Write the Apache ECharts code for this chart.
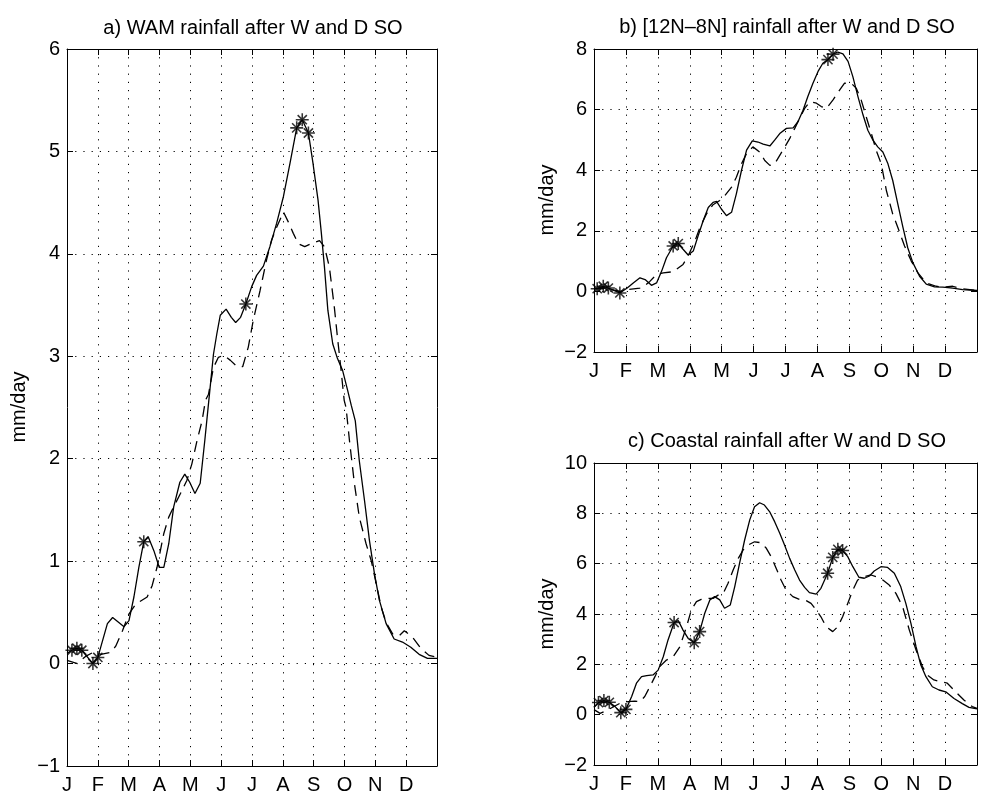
<!DOCTYPE html>
<html>
<head>
<meta charset="utf-8">
<title>WAM rainfall after W and D SO</title>
<script src="https://cdn.jsdelivr.net/npm/echarts@6/dist/echarts.min.js"></script>
<style>
  html, body { margin: 0; padding: 0; background: #fff; }
  #chart { width: 984px; height: 798px; }
</style>
</head>
<body>
<div id="chart"></div>
<script>
// month tick labels (x in months from 1 Jan)
var months = ['J', 'F', 'M', 'A', 'M', 'J', 'J', 'A', 'S', 'O', 'N', 'D'];

// a) WAM rainfall
var aSolid = [[0,0.10],[0.16,0.13],[0.32,0.15],[0.48,0.13],[0.84,0.0],[1.0,0.06],[1.31,0.39],[1.48,0.45],[1.85,0.36],[2.01,0.42],[2.17,0.65],[2.33,0.94],[2.49,1.19],[2.63,1.24],[2.82,1.1],[2.99,0.94],[3.14,0.94],[3.3,1.17],[3.46,1.53],[3.66,1.77],[3.82,1.85],[3.98,1.77],[4.15,1.66],[4.32,1.76],[4.47,2.18],[4.6,2.57],[4.75,3.02],[4.86,3.22],[4.97,3.40],[5.16,3.46],[5.33,3.38],[5.47,3.33],[5.63,3.38],[5.80,3.51],[5.99,3.68],[6.15,3.79],[6.37,3.88],[6.58,4.07],[6.80,4.30],[7.02,4.56],[7.23,4.88],[7.45,5.23],[7.63,5.31],[7.83,5.18],[7.98,4.88],[8.14,4.53],[8.25,4.20],[8.35,3.87],[8.46,3.45],[8.62,3.12],[8.77,2.98],[8.94,2.86],[9.10,2.67],[9.22,2.52],[9.35,2.37],[9.48,1.98],[9.65,1.59],[9.81,1.20],[9.97,0.88],[10.13,0.62],[10.35,0.39],[10.61,0.24],[10.88,0.21],[11.15,0.16],[11.42,0.09],[11.69,0.05],[12,0.05]];
var aDashed = [[0,0.03],[0.34,0.0],[0.6,0.07],[0.85,0.11],[1.1,0.09],[1.42,0.11],[1.58,0.17],[1.8,0.32],[2.0,0.48],[2.23,0.58],[2.6,0.65],[2.76,0.76],[2.92,0.94],[3.14,1.27],[3.3,1.43],[3.46,1.53],[3.68,1.66],[3.89,1.79],[4.05,1.95],[4.22,2.18],[4.38,2.37],[4.49,2.57],[4.59,2.63],[4.75,2.89],[4.91,2.99],[5.08,3.01],[5.3,2.96],[5.51,2.90],[5.70,2.90],[5.88,3.09],[6.04,3.35],[6.26,3.64],[6.47,3.94],[6.63,4.13],[6.80,4.26],[7.02,4.41],[7.18,4.31],[7.34,4.20],[7.5,4.10],[7.71,4.07],[7.92,4.10],[8.19,4.13],[8.35,4.07],[8.51,3.87],[8.67,3.48],[8.77,3.19],[8.88,2.89],[8.99,2.57],[9.05,2.5],[9.16,2.18],[9.32,1.76],[9.48,1.43],[9.70,1.17],[9.87,1.0],[10.03,0.78],[10.19,0.55],[10.35,0.40],[10.56,0.29],[10.77,0.27],[10.94,0.32],[11.2,0.26],[11.47,0.15],[11.74,0.08],[12,0.06]];
var aStars = [[0.16,0.13],[0.32,0.15],[0.48,0.13],[0.84,0.0],[1.0,0.06],[2.49,1.19],[5.80,3.51],[7.45,5.23],[7.63,5.31],[7.83,5.18]];

// b) [12N-8N] rainfall
var bSolid = [[0,0.11],[0.1,0.09],[0.29,0.17],[0.45,0.11],[0.81,-0.05],[1.04,0.11],[1.23,0.28],[1.44,0.45],[1.6,0.39],[1.8,0.2],[1.96,0.28],[2.12,0.67],[2.27,1.11],[2.48,1.5],[2.64,1.58],[2.79,1.39],[2.95,1.2],[3.11,1.33],[3.26,1.83],[3.42,2.33],[3.58,2.77],[3.73,2.94],[3.84,2.97],[3.99,2.72],[4.15,2.5],[4.31,2.61],[4.46,3.22],[4.62,3.99],[4.78,4.66],[4.96,4.97],[5.14,4.93],[5.30,4.86],[5.51,4.80],[5.66,4.99],[5.82,5.21],[6.03,5.38],[6.24,5.40],[6.39,5.60],[6.55,5.98],[6.7,6.43],[6.86,6.87],[7.02,7.26],[7.17,7.53],[7.33,7.65],[7.49,7.83],[7.64,7.9],[7.8,7.84],[7.96,7.59],[8.11,7.09],[8.27,6.43],[8.43,5.82],[8.58,5.32],[8.74,4.99],[8.89,4.77],[9.05,4.6],[9.21,4.21],[9.36,3.66],[9.52,2.88],[9.68,2.11],[9.83,1.44],[9.99,0.95],[10.2,0.5],[10.41,0.24],[10.67,0.15],[10.93,0.14],[11.24,0.11],[11.55,0.06],[12,0.03]];
var bDashed = [[0,0.08],[0.3,0.12],[0.6,0.05],[0.81,0.0],[1.04,0.06],[1.44,0.11],[1.54,0.14],[1.75,0.33],[1.96,0.56],[2.17,0.61],[2.48,0.65],[2.79,0.89],[2.95,1.17],[3.16,1.66],[3.32,2.11],[3.52,2.55],[3.73,2.86],[3.94,3.0],[4.1,3.16],[4.31,3.44],[4.46,3.77],[4.62,4.21],[4.78,4.55],[4.98,4.77],[5.19,4.6],[5.35,4.32],[5.51,4.16],[5.66,4.21],[5.82,4.49],[5.98,4.77],[6.13,5.04],[6.29,5.38],[6.44,5.71],[6.6,6.04],[6.76,6.26],[6.97,6.21],[7.12,6.1],[7.28,6.04],[7.49,6.32],[7.7,6.65],[7.85,6.87],[8.06,6.87],[8.22,6.70],[8.37,6.32],[8.53,5.76],[8.69,5.21],[8.84,4.66],[9.0,4.21],[9.16,3.33],[9.36,2.55],[9.52,2.11],[9.73,1.5],[9.94,1.0],[10.15,0.61],[10.41,0.28],[10.72,0.17],[10.98,0.14],[11.24,0.17],[11.5,0.09],[12,0.03]];
var bStars = [[0.1,0.09],[0.29,0.17],[0.45,0.11],[0.81,-0.05],[2.48,1.5],[2.64,1.58],[7.33,7.65],[7.49,7.83]];

// c) Coastal rainfall
var cSolid = [[0,0.29],[0.14,0.48],[0.31,0.56],[0.48,0.49],[0.66,0.32],[0.84,0.08],[1.0,0.21],[1.18,0.72],[1.33,1.25],[1.49,1.51],[1.65,1.55],[1.85,1.58],[2.01,1.77],[2.17,2.3],[2.32,2.97],[2.51,3.66],[2.64,3.74],[2.79,3.36],[2.95,3.03],[3.14,2.86],[3.31,3.3],[3.47,4.03],[3.63,4.56],[3.78,4.69],[3.94,4.56],[4.09,4.23],[4.27,4.36],[4.41,5.09],[4.56,6.01],[4.72,6.94],[4.88,7.74],[5.03,8.26],[5.19,8.42],[5.34,8.33],[5.5,8.07],[5.66,7.67],[5.82,7.21],[5.97,6.74],[6.13,6.21],[6.29,5.75],[6.44,5.35],[6.6,5.06],[6.75,4.85],[6.96,4.79],[7.11,5.02],[7.32,5.62],[7.48,6.25],[7.64,6.57],[7.79,6.52],[7.95,6.28],[8.11,5.88],[8.3,5.46],[8.47,5.42],[8.63,5.51],[8.78,5.71],[8.99,5.88],[9.2,5.85],[9.41,5.62],[9.61,5.09],[9.77,4.42],[9.93,3.63],[10.09,2.7],[10.24,1.97],[10.4,1.51],[10.6,1.11],[10.81,0.98],[11.02,0.91],[11.28,0.64],[11.54,0.44],[11.75,0.29],[12,0.23]];
var cDashed = [[0,0.2],[0.19,0.05],[0.45,0.2],[0.81,0.45],[1.07,0.52],[1.28,0.54],[1.44,0.52],[1.59,0.72],[1.75,1.11],[1.91,1.51],[2.06,1.91],[2.27,2.17],[2.48,2.3],[2.69,2.7],[2.9,3.5],[3.05,4.16],[3.21,4.49],[3.36,4.58],[3.52,4.62],[3.73,4.62],[3.89,4.75],[4.05,4.82],[4.2,5.22],[4.36,5.75],[4.52,6.21],[4.67,6.54],[4.83,6.74],[5.03,6.87],[5.24,6.83],[5.4,6.61],[5.55,6.28],[5.71,5.81],[5.86,5.35],[6.02,4.95],[6.23,4.69],[6.44,4.58],[6.65,4.53],[6.8,4.42],[6.96,4.16],[7.11,3.89],[7.27,3.5],[7.48,3.3],[7.64,3.5],[7.79,3.89],[7.95,4.42],[8.11,4.95],[8.26,5.35],[8.47,5.48],[8.68,5.55],[8.84,5.48],[9.05,5.35],[9.25,5.15],[9.46,4.82],[9.67,4.29],[9.88,3.36],[10.09,2.57],[10.29,1.91],[10.44,1.58],[10.65,1.38],[10.86,1.31],[11.07,1.25],[11.33,0.91],[11.59,0.58],[11.85,0.32],[12,0.25]];
var cStars = [[0.14,0.48],[0.31,0.56],[0.48,0.49],[0.84,0.08],[1.0,0.21],[2.51,3.66],[3.14,2.86],[3.31,3.3],[7.32,5.62],[7.48,6.25],[7.64,6.57],[7.79,6.52]];

var titles = ['a) WAM rainfall after W and D SO', 'b) [12N\u20138N] rainfall after W and D SO', 'c) Coastal rainfall after W and D SO'];

var font = '"Liberation Sans", Arial, Helvetica, sans-serif';
// asterisk marker ('*' in matlab): four thin bars
var star = 'path://M-0.12,-1L0.12,-1L0.12,1L-0.12,1Z' +
  'M-1,-0.12L1,-0.12L1,0.12L-1,0.12Z' +
  'M-0.622,-0.792L0.792,0.622L0.622,0.792L-0.792,-0.622Z' +
  'M-0.792,0.622L0.622,-0.792L0.792,-0.622L-0.622,0.792Z';

var grids = [
  { left: 67, top: 49, width: 370, height: 717 },
  { left: 594, top: 49, width: 383, height: 303 },
  { left: 594, top: 463, width: 383, height: 302 }
];
var yRanges = [[-1, 6, 1], [-2, 8, 2], [-2, 10, 2]];

var dotted = { color: '#000', width: 1, type: [1.2, 7] };

function xAxes(i) {
  var base = {
    type: 'value', gridIndex: i, min: 0, max: 12, interval: 1,
    axisLine: { onZero: false, lineStyle: { color: '#000', width: 1 } },
    axisTick: { inside: true, length: 6, lineStyle: { color: '#000' } }
  };
  return [
    Object.assign({}, base, {
      position: 'bottom',
      splitLine: { show: true, lineStyle: dotted },
      axisLabel: {
        color: '#000', fontSize: 20, fontFamily: font, margin: 9,
        formatter: function (v) { return months[v] || ''; }
      }
    }),
    Object.assign({}, base, {
      position: 'top', splitLine: { show: false }, axisLabel: { show: false }
    })
  ];
}

function yAxes(i) {
  var r = yRanges[i];
  var base = {
    type: 'value', gridIndex: i, min: r[0], max: r[1], interval: r[2],
    axisLine: { show: true, onZero: false, lineStyle: { color: '#000', width: 1 } },
    axisTick: { show: true, inside: true, length: 6, lineStyle: { color: '#000' } }
  };
  return [
    Object.assign({}, base, {
      position: 'left',
      splitLine: { show: true, lineStyle: dotted },
      axisLabel: {
        color: '#000', fontSize: 20, fontFamily: font, margin: 7,
        formatter: function (v) { return String(v).replace('-', '\u2212'); }
      }
    }),
    Object.assign({}, base, {
      position: 'right', splitLine: { show: false }, axisLabel: { show: false }
    })
  ];
}

var xAxis = [], yAxis = [], series = [];
var panels = [[aSolid, aDashed, aStars], [bSolid, bDashed, bStars], [cSolid, cDashed, cStars]];
panels.forEach(function (p, i) {
  xAxis = xAxis.concat(xAxes(i));
  yAxis = yAxis.concat(yAxes(i));
  series.push({
    type: 'line', xAxisIndex: 2 * i, yAxisIndex: 2 * i, data: p[1],
    showSymbol: false, silent: true,
    lineStyle: { color: '#000', width: 1.3, type: [11, 7] }
  });
  series.push({
    type: 'line', xAxisIndex: 2 * i, yAxisIndex: 2 * i, data: p[0],
    showSymbol: false, silent: true,
    lineStyle: { color: '#000', width: 1.3 }
  });
  series.push({
    type: 'scatter', xAxisIndex: 2 * i, yAxisIndex: 2 * i, data: p[2],
    symbol: star, symbolSize: 13, silent: true,
    itemStyle: { color: '#000' }
  });
});

var titleStyle = { fontSize: 20, fontWeight: 'normal', color: '#000', fontFamily: font };
var ylabelStyle = { text: 'mm/day', fontSize: 20, fontFamily: font, fill: '#000', align: 'center', verticalAlign: 'middle' };

var chart = echarts.init(document.getElementById('chart'), null, { renderer: 'canvas' });
chart.setOption({
  backgroundColor: '#fff',
  animation: false,
  title: [
    { text: titles[0], left: 253, top: 18, textAlign: 'center', padding: 0, textStyle: titleStyle },
    { text: titles[1], left: 787, top: 17, textAlign: 'center', padding: 0, textStyle: titleStyle },
    { text: titles[2], left: 787, top: 431, textAlign: 'center', padding: 0, textStyle: titleStyle }
  ],
  graphic: [
    { type: 'text', x: 19, y: 407, rotation: Math.PI / 2, style: ylabelStyle },
    { type: 'text', x: 547, y: 200, rotation: Math.PI / 2, style: ylabelStyle },
    { type: 'text', x: 547, y: 614, rotation: Math.PI / 2, style: ylabelStyle }
  ],
  grid: grids,
  xAxis: xAxis,
  yAxis: yAxis,
  series: series
});
</script>
</body>
</html>
